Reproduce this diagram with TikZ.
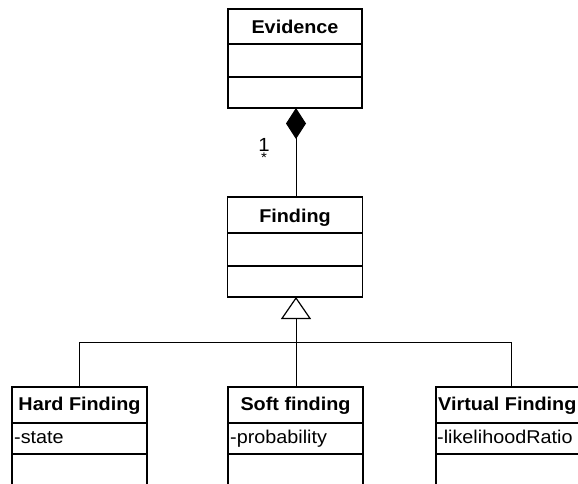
\documentclass[tikz,border=0pt]{standalone}
\usepackage{fontspec}
\setmainfont{Liberation Sans}[FakeStretch=1.07]
\usetikzlibrary{arrows.meta}
\begin{document}
\begin{tikzpicture}[x=1pt,y=-1pt,
  classbox/.style={draw, line width=1.6pt, rectangle, inner sep=0pt, outer sep=0pt},
  divider/.style={line width=1.6pt},
  title/.style={anchor=base, inner sep=0pt, font=\fontsize{18.5}{20}\selectfont\bfseries},
  attr/.style={anchor=base west, inner sep=0pt, font=\fontsize{18.5}{20}\selectfont},
  link/.style={line width=1pt},
  comp/.style={link, -{Diamond[length=31pt,width=20pt,fill=black]}},
  gen/.style={link, -{Triangle[open,length=22pt,width=30pt,line width=1.2pt]}}
]
\useasboundingbox (0,0) rectangle (578,483);
\clip (0,0) rectangle (578,483);

% Evidence
\node[classbox, minimum width=134pt, minimum height=99pt] (evidence) at (295,58.5) {};
\draw[divider] (evidence.west |- 0,44) -- (evidence.east |- 0,44);
\draw[divider] (evidence.west |- 0,77) -- (evidence.east |- 0,77);
\node[title] (evidenceT) at (295,33) {Evidence};

% Finding
\node[classbox, minimum width=135pt, minimum height=100pt] (finding) at (295,247) {};
\draw[divider] (finding.west |- 0,233) -- (finding.east |- 0,233);
\draw[divider] (finding.west |- 0,266) -- (finding.east |- 0,266);
\node[title] (findingT) at (295,222) {Finding};

% Subclasses (lower compartments run past the bottom edge)
\node[classbox, minimum width=135pt, minimum height=130pt] (hard) at (79.5,452) {};
\draw[divider] (hard.west |- 0,423) -- (hard.east |- 0,423);
\draw[divider] (hard.west |- 0,454) -- (hard.east |- 0,454);
\node[title] (hardT) at (79.5,410) {Hard Finding};
\node[attr] (hardA) at (14,443) {-state};

\node[classbox, minimum width=135pt, minimum height=130pt] (soft) at (295.5,452) {};
\draw[divider] (soft.west |- 0,423) -- (soft.east |- 0,423);
\draw[divider] (soft.west |- 0,454) -- (soft.east |- 0,454);
\node[title] (softT) at (295.5,410) {Soft finding};
\node[attr] (softA) at (230,443) {-probability};

\node[classbox, minimum width=150pt, minimum height=130pt] (virtual) at (511,452) {};
\draw[divider] (virtual.west |- 0,423) -- (virtual.east |- 0,423);
\draw[divider] (virtual.west |- 0,454) -- (virtual.east |- 0,454);
\node[title, anchor=base west] (virtualT) at (438,410) {Virtual Finding};
\node[attr] (virtualA) at (437,443) {-likelihoodRatio};

% Composition
\draw[comp] (finding.north -| 296,0) -- (evidence.south -| 296,0);
\node[anchor=base, inner sep=0pt, font=\fontsize{19}{20}\selectfont] (mult) at (264,151) {1};
\node[inner sep=0pt, font=\fontsize{14}{14}\selectfont] (multstar) at (264,158) {*};

% Generalization
\coordinate (junc) at (296,342);
\draw[link] (hard.north) |- (junc);
\draw[link] (virtual.north) |- (junc);
\draw[gen] (soft.north -| junc) -- (finding.south -| junc);
\end{tikzpicture}
\end{document}
